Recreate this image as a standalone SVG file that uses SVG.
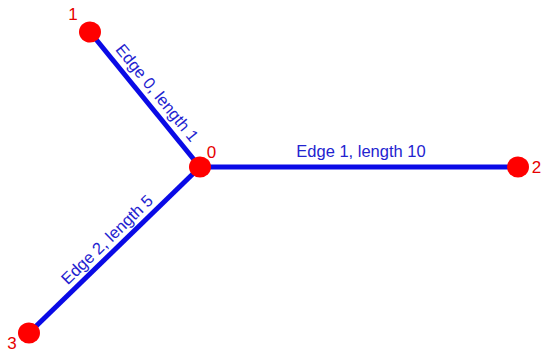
<svg xmlns="http://www.w3.org/2000/svg" width="542" height="353" viewBox="0 0 542 353">
<style>
.edge{stroke:#0a0ae6;stroke-width:5;stroke-linecap:butt;fill:none}
.node{fill:#ff0000}
.nl{fill:#e60000;font-family:"Liberation Sans",Arial,sans-serif;font-size:17px;text-anchor:middle}
.el{fill:#2323d0;font-family:"Liberation Sans",Arial,sans-serif;font-size:16.5px;text-anchor:middle}
</style>
<rect width="542" height="353" fill="#ffffff"/>
<g id="connectors">
<line class="edge" x1="90" y1="32" x2="200" y2="167"/>
<line class="edge" x1="200" y1="167" x2="518" y2="167"/>
<line class="edge" x1="200" y1="167" x2="29" y2="333"/>
<text class="el" transform="translate(152.8,96.4) rotate(50.8)">Edge 0, length 1</text>
<text class="el" x="361" y="157">Edge 1, length 10</text>
<text class="el" transform="translate(111,243.6) rotate(-44.1)">Edge 2, length 5</text>
</g>
<g id="node0"><ellipse class="node" cx="200" cy="167" rx="11" ry="10.5"/><text class="nl" x="211.5" y="158">0</text></g>
<g id="node1"><ellipse class="node" cx="90" cy="32" rx="11" ry="10.5"/><text class="nl" x="73" y="20">1</text></g>
<g id="node2"><ellipse class="node" cx="518" cy="167" rx="11" ry="10.5"/><text class="nl" x="536.5" y="173">2</text></g>
<g id="node3"><ellipse class="node" cx="29" cy="333" rx="11" ry="10.5"/><text class="nl" x="12" y="349">3</text></g>
</svg>
